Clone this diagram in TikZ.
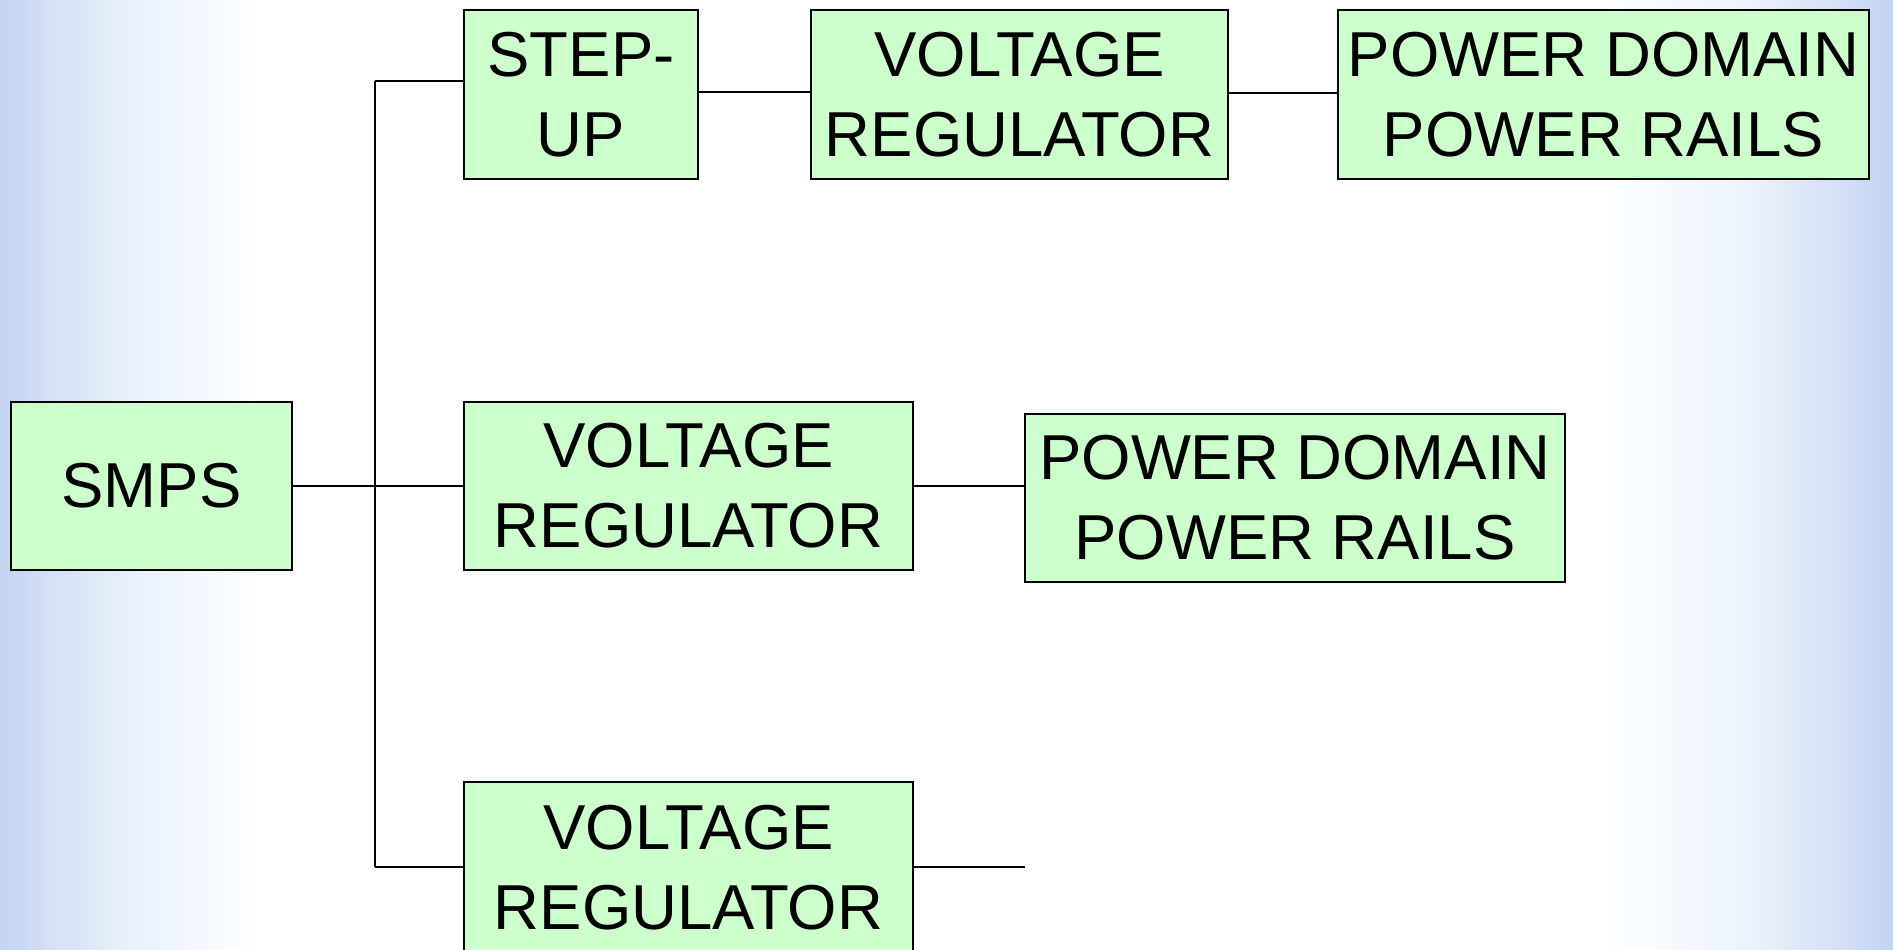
\documentclass[tikz,border=0pt]{standalone}
\usepackage{fontspec}
\setmainfont{Liberation Sans}
\definecolor{boxfill}{RGB}{204,255,204}
\definecolor{bgblue}{RGB}{196,213,242}
\begin{document}
\begin{tikzpicture}[x=1pt,y=-1pt,
  blk/.style={draw=black,line width=2.8pt,fill=boxfill,inner sep=0pt,align=center,
    font=\fontsize{63.5}{80}\selectfont},
  wire/.style={line width=2.6pt,draw=black}]
\useasboundingbox (0,0) rectangle (1893,950);
% background
\fill[white] (0,0) rectangle (1893,950);
\shade[left color=bgblue,right color=white,middle color=bgblue!35] (0,0) rectangle (260,950);
\shade[left color=white,right color=bgblue,middle color=bgblue!30] (1600,0) rectangle (1893,950);
% boxes
\node[blk,minimum width=281pt,minimum height=168pt] (smps) at (151.5,486) {SMPS};
\node[blk,minimum width=234pt,minimum height=169pt] (stepup) at (581,94.5) {STEP-\\UP};
\node[blk,minimum width=417pt,minimum height=169pt] (vr1) at (1019.5,94.5) {VOLTAGE\\REGULATOR};
\node[blk,minimum width=531pt,minimum height=169pt] (pd1) at (1603.5,94.5) {POWER DOMAIN\\POWER RAILS};
\node[blk,minimum width=449pt,minimum height=168pt] (vr2) at (688.5,486) {VOLTAGE\\REGULATOR};
\node[blk,minimum width=540pt,minimum height=168pt] (pd2) at (1295,498) {POWER DOMAIN\\POWER RAILS};
\node[blk,minimum width=449pt,minimum height=172pt] (vr3) at (688.5,868) {VOLTAGE\\REGULATOR};
% junction points
\coordinate (jtop) at (375,81);
\coordinate (jbot) at (375,867);
\coordinate (vr1in) at (vr1.west |- 0,92);
\coordinate (pd1in) at (pd1.west |- 0,93);
\coordinate (freeend) at (1025,867);
% connectors
\draw[wire] (jtop) -- (jbot);
\draw[wire] (jtop) -- (jtop -| stepup.west);
\draw[wire] (smps.east) -- (vr2.west);
\draw[wire] (jbot) -- (jbot -| vr3.west);
\draw[wire] (vr1in -| stepup.east) -- (vr1in);
\draw[wire] (pd1in -| vr1.east) -- (pd1in);
\draw[wire] (vr2.east) -- (vr2.east -| pd2.west);
\draw[wire] (jbot -| vr3.east) -- (freeend);
\end{tikzpicture}
\end{document}
